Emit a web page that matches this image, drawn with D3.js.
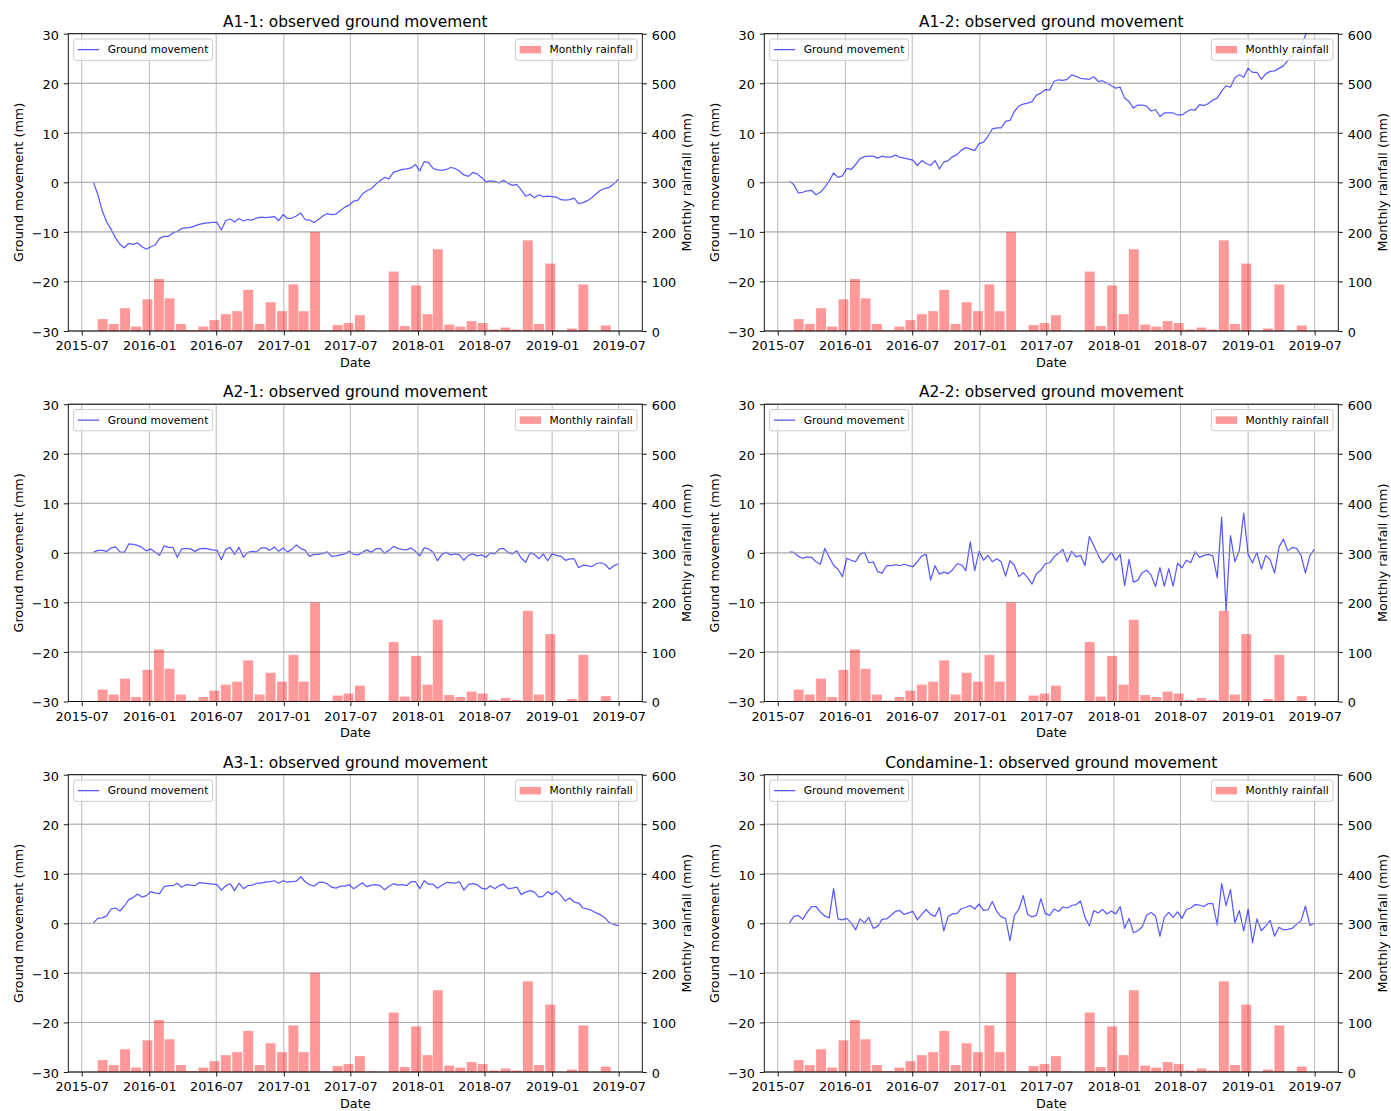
<!DOCTYPE html>
<html><head><meta charset="utf-8">
<script src="https://cdn.jsdelivr.net/npm/d3@7"></script>
<style>
body{margin:0;background:#fff;}
svg text{font-family:"DejaVu Sans",sans-serif;fill:#000;}
</style></head><body>
<svg id="chart" width="1391" height="1111"></svg>
<script>
// ---------------- data ----------------
const xTickLabels = ["2015-07","2016-01","2016-07","2017-01","2017-07","2018-01","2018-07","2019-01","2019-07"];
const yLeftTicks = [-30,-20,-10,0,10,20,30];
const yRightTicks = [0,100,200,300,400,500,600];

const rainMonths = ["2015-08","2015-09","2015-10","2015-11","2015-12",
  "2016-01","2016-02","2016-03","2016-04","2016-05","2016-06","2016-07","2016-08","2016-09","2016-10","2016-11","2016-12",
  "2017-01","2017-02","2017-03","2017-04","2017-05","2017-06","2017-07","2017-08","2017-09","2017-10","2017-11","2017-12",
  "2018-01","2018-02","2018-03","2018-04","2018-05","2018-06","2018-07","2018-08","2018-09","2018-10","2018-11","2018-12",
  "2019-01","2019-02","2019-03","2019-04","2019-05"];
const rainfall = [24,14,46,9,64,
  105,66,14,2,9,22,34,40,83,14,58,40,
  94,40,200,1,12,16,32,1,0,120,10,92,
  34,165,13,9,20,16,3,7,3,183,14,136,
  0,5,94,0,11];

// InSAR acquisitions: first date and revisit interval (days)
const obsStart = "2015-08-02";
const obsStepDays = 12;

const a11 = [0,-2.5,-5.8,-8,-9.5,-11.2,-12.5,-13.2,-12.3,-12.5,
 -12.2,-13,-13.5,-13,-12.6,-11.3,-10.9,-10.9,-10.2,-9.9,
 -9.3,-9.2,-9.1,-8.8,-8.5,-8.3,-8.2,-8.1,-8.1,-9.6,
 -7.7,-7.4,-8.0,-7.3,-7.8,-7.5,-7.6,-7.2,-7.0,-7.1,
 -7.0,-6.9,-7.7,-6.5,-7.3,-7.2,-6.8,-6.2,-7.5,-7.6,
 -8.1,-7.5,-6.8,-6.3,-6.5,-6.4,-5.7,-5.0,-4.6,-3.8,
 -3.6,-2.3,-1.7,-1.3,-0.4,0.3,1.0,0.7,2.0,2.3,
 2.6,2.7,2.9,3.6,2.3,4.2,4.0,2.8,2.5,2.4,
 2.6,3.0,2.8,2.3,1.5,1.2,2.0,1.7,1.0,0.1,
 0.3,0.2,-0.1,0.4,-0.2,-0.6,-0.4,-1.5,-2.8,-2.4,
 -3.1,-2.5,-2.9,-2.8,-2.9,-3.0,-3.5,-3.6,-3.5,-3.2,
 -4.3,-4.1,-3.7,-3.1,-2.3,-1.6,-1.2,-1.0,-0.3,0.6];
const a12 = [0.2,-0.5,-2.1,-2.0,-1.7,-1.6,-2.5,-2.0,-1.0,0.3,
 1.9,1.0,1.3,2.8,2.6,3.6,4.8,5.2,5.3,5.3,
 4.9,5.3,5.1,5.1,5.5,5.1,4.9,4.7,4.5,3.4,
 4.4,3.8,3.4,4.4,2.7,4.1,4.4,5.2,5.6,6.5,
 7.0,6.7,6.4,7.8,8.1,9.3,10.8,11,11,12.3,
 12.5,14.3,15.4,15.8,16,16.3,17.6,18,18.7,18.6,
 20.4,20.7,20.6,20.8,21.7,21.4,21.0,20.9,20.8,21.3,
 20.4,20.5,20,19.5,19.0,19.2,17.0,16.3,15.0,15.6,
 15.6,15.4,14.4,14.7,13.3,14,14,14,13.6,13.6,
 14.2,14.7,14.6,15.7,15.5,15.9,16.6,17,18.4,19.5,
 19.2,21.1,21.7,21.2,23,22.2,22.2,20.8,21.9,22.4,
 22.5,23,23.5,24.6,25.6,26.4,27.5,29.7,31.5,33];
const a21 = [0.1,0.5,0.5,0.3,1.0,1.2,0.2,0.1,1.8,1.7,
 1.5,1.1,0.4,0.8,0.1,-0.5,1.4,1.1,1.1,-0.9,
 0.8,0.9,0.8,0.3,0.8,0.9,0.8,0.6,0.5,-1.4,
 0.7,1.1,-0.3,1.1,-0.9,0.1,0.3,0.2,1.0,1.0,
 0.5,1.2,0.3,1.0,0.2,0.7,1.6,0.9,0.5,-0.7,
 -0.3,-0.3,-0.1,0.2,-0.7,-0.6,-0.4,-0.2,0.3,-0.3,
 -0.4,0.1,0.6,0.1,0.8,0.9,-0.1,0.5,1.3,0.9,
 0.7,0.6,1.0,0.3,-0.6,1.0,0.8,0.1,-1.6,-0.3,
 0.1,-0.4,-0.2,-0.4,-1.5,-0.5,-0.2,-0.6,-0.4,-0.9,
 0.0,-0.2,0.8,0.9,0.1,-0.2,0.4,-1.1,-1.9,0.0,
 -0.3,-1.2,-0.2,-1.6,-0.2,-0.5,-0.7,-1.5,-1.2,-1.2,
 -3.0,-2.5,-2.6,-2.8,-2.2,-2.0,-2.3,-3.3,-2.6,-2.2];
const a22 = [0.2,0.1,-0.7,-1.1,-0.8,-0.9,-1.8,-2.3,0.9,-0.9,
 -2.5,-3.3,-4.8,-1.1,-1.5,-1.8,-0.3,0.1,-2.0,-1.8,
 -3.8,-4.1,-2.6,-2.6,-2.4,-2.6,-2.3,-2.6,-2.8,-1.8,
 -0.6,-0.3,-5.5,-2.6,-4.3,-3.9,-4.2,-3.4,-2.2,-2.4,
 -3.6,2.2,-3.6,0.3,-1.5,-0.5,-1.8,-1.2,-1.8,-4.7,
 -1.6,-2.5,-4.8,-4.0,-5.0,-6.3,-4.2,-3.5,-2.2,-2.0,
 -0.8,-0.1,0.7,-1.8,0.3,-0.8,-0.5,-2.6,3.3,1.5,
 -0.5,-2.0,-1.0,0.1,-1.5,-0.3,-6.6,-1.3,-5.9,-5.5,
 -4.0,-3.5,-4.5,-6.8,-3.0,-6.7,-3.2,-6.7,-2.1,-3.0,
 -1.5,-2.0,0.2,-0.9,-0.5,-0.3,-0.6,-5.0,7.2,-11.8,
 3.5,-1.8,0.4,8.0,-0.3,-2.0,0.1,-3.3,-0.5,-1.4,
 -4.1,1.1,2.8,0.4,1.1,0.9,-0.5,-4.1,-0.6,0.7];
const a31 = [0.1,1.0,1.1,1.5,2.9,3.1,2.5,3.5,4.8,5.2,
 5.9,5.3,5.6,6.4,6.1,6.0,7.4,7.6,7.6,8.1,
 7.3,7.8,7.7,7.6,8.2,8.1,8.0,7.9,7.8,6.7,
 7.6,8.0,6.6,8.1,7.0,7.6,7.7,8.1,8.1,8.3,
 8.4,8.6,8.1,8.6,8.3,8.4,8.5,9.4,8.4,7.8,
 7.5,8.2,8.3,8.0,7.3,7.1,7.5,7.5,7.8,7.0,
 7.6,8.2,7.4,7.7,7.8,7.6,6.8,7.5,8.0,7.7,
 7.8,7.6,8.4,8.4,7.0,8.6,7.9,7.9,7.1,7.7,
 8.2,8.2,8.1,8.4,6.7,7.8,8.0,7.8,7.1,6.9,
 7.6,7.0,7.6,7.9,7.0,7.1,7.3,5.8,6.3,6.6,
 6.3,5.3,5.5,6.4,5.8,6.5,5.6,4.5,5.1,4.3,
 4.1,3.1,2.9,2.6,2.1,1.7,1.1,0.1,-0.2,-0.5];
const condamine1 = [0.1,1.4,1.6,0.8,2.2,3.4,3.4,2.3,1.5,1.1,
 7.0,0.9,0.7,1.0,0.1,-1.3,0.9,0.1,1.2,-1.0,
 -0.6,0.8,0.9,1.6,2.4,2.6,1.8,2.1,2.4,0.7,
 1.8,2.8,1.8,1.4,3.2,-1.5,1.4,1.9,2.0,3.0,
 3.2,3.6,2.9,3.9,2.6,2.7,4.4,2.4,1.3,1.0,
 -3.5,1.6,2.8,5.6,1.8,1.3,1.6,5.0,2.0,1.6,
 2.9,2.4,3.3,3.1,3.6,3.8,4.5,1.2,-0.5,2.6,
 2.1,2.8,1.9,2.5,1.9,3.4,-1.0,1.0,-1.9,-1.5,
 -0.7,1.7,2.2,1.5,-2.6,1.2,2.2,1.2,2.3,1.0,
 2.8,3.1,3.8,3.7,3.4,4.0,4.0,-0.3,8.0,3.6,
 6.8,0.1,2.6,-1.5,2.8,-3.9,0.9,-1.5,-0.5,0.6,
 -2.6,-0.8,-1.3,-1.2,-1.0,-0.2,0.5,3.5,-0.4,0.0];

const panelTitles = ["A1-1: observed ground movement","A1-2: observed ground movement",
  "A2-1: observed ground movement","A2-2: observed ground movement",
  "A3-1: observed ground movement","Condamine-1: observed ground movement"];
const panelSeries = [a11,a12,a21,a22,a31,condamine1];

// ---------------- layout ----------------
const colX = [68.3, 764.3];
const rowY = [33.7, 404.2, 774.7];
const W = 574, H = 297.3;
const xDomain = [new Date(Date.UTC(2015,4,25,12)), new Date(Date.UTC(2019,8,3,10))];
const FT = 12.8, FTITLE = 15.4, FLEG = 10.7;

const svg = d3.select("#chart");
const parseMonth = d3.utcParse("%Y-%m");
const xTicks = xTickLabels.map(parseMonth);
const t0 = d3.utcParse("%Y-%m-%d")(obsStart);

panelSeries.forEach((vals, k) => {
  const x0 = colX[k % 2], y0 = rowY[Math.floor(k / 2)];
  const g = svg.append("g");
  const x = d3.scaleUtc().domain(xDomain).range([x0, x0 + W]);
  const yL = d3.scaleLinear().domain([-30, 30]).range([y0 + H, y0]);
  const yR = d3.scaleLinear().domain([0, 600]).range([y0 + H, y0]);
  const clipId = "clip" + k;
  g.append("clipPath").attr("id", clipId).append("rect")
    .attr("x", x0).attr("y", y0).attr("width", W).attr("height", H);

  // grid
  const grid = g.append("g").attr("stroke", "#b0b0b0").attr("stroke-width", 0.9);
  grid.selectAll("line.v").data(xTicks).join("line")
    .attr("x1", d => x(d)).attr("x2", d => x(d)).attr("y1", y0).attr("y2", y0 + H);
  grid.selectAll("line.h").data(yLeftTicks).join("line")
    .attr("x1", x0).attr("x2", x0 + W).attr("y1", d => yL(d)).attr("y2", d => yL(d));

  // ground movement line
  const pts = vals.map((v, i) => ({ d: d3.utcDay.offset(t0, i * obsStepDays), v }));
  g.append("path").datum(pts)
    .attr("clip-path", `url(#${clipId})`)
    .attr("fill", "none").attr("stroke", "#0000ff").attr("stroke-opacity", 0.65)
    .attr("stroke-width", 1.25).attr("stroke-linejoin", "round")
    .attr("d", d3.line().x(p => x(p.d)).y(p => yL(p.v)));

  // twin-axis grid (drawn above the line)
  const grid2 = g.append("g").attr("stroke", "#b0b0b0").attr("stroke-width", 0.9);
  grid2.selectAll("line").data(yRightTicks).join("line")
    .attr("x1", x0).attr("x2", x0 + W).attr("y1", d => yR(d)).attr("y2", d => yR(d));

  // rainfall bars (centred a few days before month end, ~27 days wide)
  const bars = rainMonths.map((m, i) => ({
    c: d3.utcDay.offset(d3.utcMonth.offset(parseMonth(m), 1), -5), v: rainfall[i] }));
  g.append("g").attr("clip-path", `url(#${clipId})`).selectAll("rect").data(bars).join("rect")
    .attr("x", b => x(d3.utcHour.offset(b.c, -324)))
    .attr("width", b => x(d3.utcHour.offset(b.c, 324)) - x(d3.utcHour.offset(b.c, -324)))
    .attr("y", b => yR(b.v)).attr("height", b => yR(0) - yR(b.v))
    .attr("fill", "#ff0000").attr("fill-opacity", 0.4);

  // axes
  const fmt = d3.format("d");
  const styleAxis = (sel, dy) => {
    sel.select(".domain").remove();
    sel.selectAll(".tick line").attr("stroke", "#000").attr("stroke-width", 0.9);
    const t = sel.selectAll(".tick text").attr("font-size", FT).attr("font-family", "DejaVu Sans").attr("fill", "#000");
    if (dy) t.attr("dy", dy);
    sel.attr("font-family", null).attr("font-size", null);
  };
  g.append("g").attr("transform", `translate(0,${y0 + H})`)
    .call(d3.axisBottom(x).tickValues(xTicks).tickFormat(d3.utcFormat("%Y-%m")).tickSize(4.5).tickPadding(5.5))
    .call(s => styleAxis(s));
  g.append("g").attr("transform", `translate(${x0},0)`)
    .call(d3.axisLeft(yL).tickValues(yLeftTicks).tickFormat(fmt).tickSize(4.5).tickPadding(5))
    .call(s => styleAxis(s, "0.42em"));
  g.append("g").attr("transform", `translate(${x0 + W},0)`)
    .call(d3.axisRight(yR).tickValues(yRightTicks).tickFormat(fmt).tickSize(4.5).tickPadding(5))
    .call(s => styleAxis(s, "0.42em"));

  // spines
  g.append("rect").attr("x", x0).attr("y", y0).attr("width", W).attr("height", H)
    .attr("fill", "none").attr("stroke", "#000").attr("stroke-width", 0.9);

  // title and labels
  g.append("text").attr("x", x0 + W / 2).attr("y", y0 - 6.8).attr("text-anchor", "middle")
    .attr("font-size", FTITLE).text(panelTitles[k]);
  g.append("text").attr("x", x0 + W / 2).attr("y", y0 + H + 35.5).attr("text-anchor", "middle")
    .attr("font-size", FT).text("Date");
  g.append("text").attr("transform", `translate(${x0 - 50.3},${y0 + H / 2}) rotate(-90)`)
    .attr("text-anchor", "middle").attr("dominant-baseline", "central")
    .attr("font-size", FT).text("Ground movement (mm)");
  g.append("text").attr("transform", `translate(${x0 + W + 43.7},${y0 + H / 2}) rotate(-90)`)
    .attr("text-anchor", "middle").attr("dominant-baseline", "central")
    .attr("font-size", FT).text("Monthly rainfall (mm)");

  // legends
  const pad = 0.4 * FLEG, hl = 2 * FLEG, htp = 0.8 * FLEG, bh = 21.3;
  function legend(lx, isRight, label) {
    const lg = g.append("g");
    const box = lg.append("rect");
    const txt = lg.append("text").attr("font-size", FLEG).attr("dominant-baseline", "central").text(label);
    const tw = txt.node().getComputedTextLength();
    const bw = pad + hl + htp + tw + pad;
    const bx = isRight ? lx - bw : lx, by = y0 + 5.3;
    box.attr("x", bx).attr("y", by).attr("width", bw).attr("height", bh).attr("rx", 2.5)
      .attr("fill", "#fff").attr("fill-opacity", 0.8).attr("stroke", "#cccccc").attr("stroke-width", 1);
    txt.attr("x", bx + pad + hl + htp).attr("y", by + bh / 2 + 0.3);
    if (!isRight) {
      lg.append("line").attr("x1", bx + pad).attr("x2", bx + pad + hl)
        .attr("y1", by + bh / 2).attr("y2", by + bh / 2)
        .attr("stroke", "#0000ff").attr("stroke-opacity", 0.65).attr("stroke-width", 1.25);
    } else {
      lg.append("rect").attr("x", bx + pad).attr("y", by + bh / 2 - 0.35 * FLEG)
        .attr("width", hl).attr("height", 0.7 * FLEG).attr("fill", "#ff0000").attr("fill-opacity", 0.4);
    }
  }
  legend(x0 + 5.3, false, "Ground movement");
  legend(x0 + W - 5.3, true, "Monthly rainfall");
});
</script>
</body></html>
